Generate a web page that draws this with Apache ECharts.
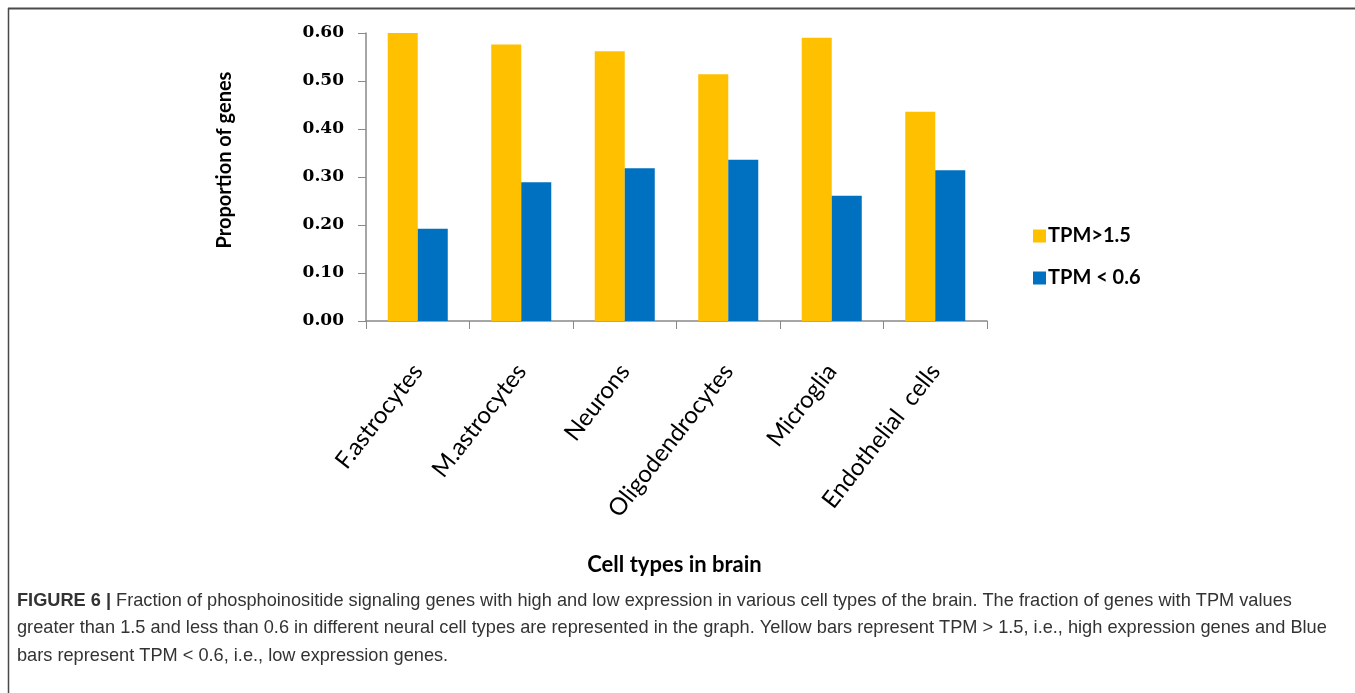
<!DOCTYPE html>
<html>
<head>
<meta charset="utf-8">
<style>
  html, body { margin: 0; padding: 0; background: #fff; }
  #chart { width: 1355px; height: 693px; }
</style>
<script src="https://cdn.jsdelivr.net/npm/echarts@6/dist/echarts.min.js"></script>
</head>
<body>
<div id="chart"></div>
<script>
// Cell types on the category axis
const cellTypes = ['F.astrocytes', 'M.astrocytes', 'Neurons', 'Oligodendrocytes', 'Microglia', 'Endothelial  cells'];
// Proportion of genes per expression class
const highExpr = [0.601, 0.576, 0.562, 0.514, 0.590, 0.436]; // TPM>1.5
const lowExpr = [0.192, 0.289, 0.318, 0.336, 0.261, 0.314];  // TPM < 0.6
const yTicks = [0, 0.1, 0.2, 0.3, 0.4, 0.5, 0.6];
const seriesNames = ['TPM>1.5', 'TPM < 0.6'];

const captionLines = [
  'Fraction of phosphoinositide signaling genes with high and low expression in various cell types of the brain. The fraction of genes with TPM values',
  'greater than 1.5 and less than 0.6 in different neural cell types are represented in the graph. Yellow bars represent TPM > 1.5, i.e., high expression genes and Blue',
  'bars represent TPM < 0.6, i.e., low expression genes.'
];

const chart = echarts.init(document.getElementById('chart'), null, { renderer: 'canvas' });

const axisGray = '#898989';

chart.setOption({
  backgroundColor: '#ffffff',
  animation: false,
  grid: { left: 366, right: 368, top: 33, bottom: 372, containLabel: false },
  legend: {
    orient: 'vertical',
    left: 1028,
    top: 221,
    itemWidth: 13,
    itemHeight: 13,
    itemGap: 22,
    icon: 'rect',
    textStyle: { fontFamily: 'Lato', fontWeight: 'bold', fontSize: 20, color: '#000', padding: [0, 0, 0, -3] },
    data: seriesNames
  },
  xAxis: {
    type: 'category',
    data: cellTypes,
    boundaryGap: true,
    axisLine: { lineStyle: { color: axisGray, width: 1.5 } },
    axisTick: { show: true, length: 8, inside: false, lineStyle: { color: axisGray } },
    axisLabel: {
      interval: 0,
      rotate: 52,
      margin: 46,
      fontFamily: 'Lato',
      fontSize: 24,
      color: '#000'
    },
    name: 'Cell types in brain',
    nameLocation: 'middle',
    nameGap: 233,
    nameTextStyle: { fontFamily: 'Lato', fontWeight: 'bold', fontSize: 22, color: '#000', padding: [0, 4, 0, 0] }
  },
  yAxis: {
    type: 'value',
    min: 0,
    max: 0.6,
    interval: 0.1,
    splitLine: { show: false },
    axisLine: { show: true, lineStyle: { color: axisGray, width: 1.5 } },
    axisTick: { show: true, length: 8, inside: false, lineStyle: { color: axisGray } },
    axisLabel: {
      margin: 22,
      fontFamily: 'DejaVu Serif',
      fontWeight: 'bold',
      fontSize: 17,
      color: '#000',
      formatter: v => {
        const t = yTicks.find(x => Math.abs(x - v) < 1e-9);
        return (t !== undefined ? t : v).toFixed(2);
      }
    },
    name: 'Proportion of genes',
    nameLocation: 'middle',
    nameRotate: 90,
    nameGap: 131,
    nameTextStyle: { fontFamily: 'Lato', fontWeight: 'bold', fontSize: 20, color: '#000', padding: [0, 0, 0, 34] }
  },
  series: [
    {
      name: seriesNames[0],
      type: 'bar',
      data: highExpr,
      barGap: '0%',
      barCategoryGap: '42%',
      itemStyle: { color: '#FFC000' }
    },
    {
      name: seriesNames[1],
      type: 'bar',
      data: lowExpr,
      barGap: '0%',
      barCategoryGap: '42%',
      itemStyle: { color: '#0070C0' }
    }
  ],
  graphic: [
    // figure frame: top and left rules
    { type: 'line', silent: true, shape: { x1: 8, y1: 8.5, x2: 1355, y2: 8.5 }, style: { stroke: '#4a4a4a', lineWidth: 2 } },
    { type: 'line', silent: true, shape: { x1: 8.5, y1: 8, x2: 8.5, y2: 693 }, style: { stroke: '#4a4a4a', lineWidth: 1.5 } },
    // caption
    {
      type: 'text',
      left: 17,
      top: 587,
      style: {
        text: '{b|FIGURE 6 |} ' + captionLines[0] + '\n' + captionLines[1] + '\n' + captionLines[2],
        fontFamily: 'Liberation Sans',
        fontSize: 18.2,
        lineHeight: 27.5,
        fill: '#333333',
        rich: {
          b: { fontFamily: 'Liberation Sans', fontWeight: 'bold', fontSize: 18.2, lineHeight: 27.5, fill: '#333333' }
        }
      }
    }
  ]
});
</script>
</body>
</html>
